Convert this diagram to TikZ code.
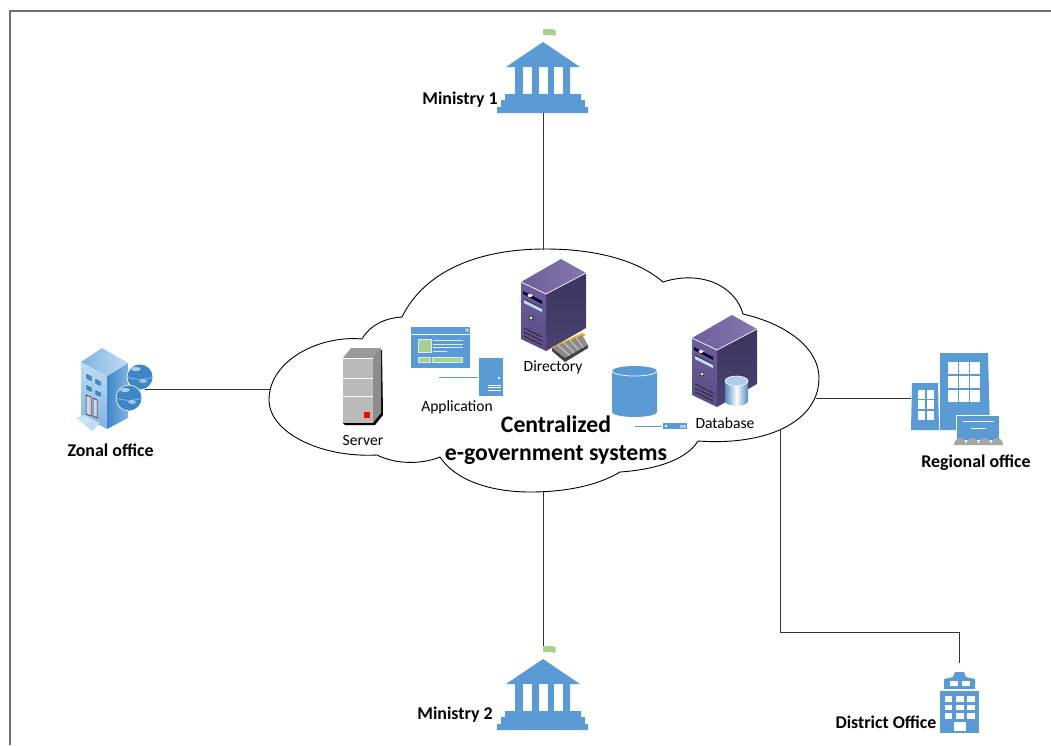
\documentclass[tikz,border=0pt]{standalone}
\usepackage{fontspec}
\setmainfont{Carlito}
\usetikzlibrary{positioning,calc}
\definecolor{iconblue}{HTML}{5B9BD5}
\definecolor{icongreen}{HTML}{A9D18E}
\definecolor{framegray}{HTML}{707070}
\definecolor{srvtop}{HTML}{8577AE}
\definecolor{srvfront}{HTML}{6E5F9C}
\definecolor{srvfrontb}{HTML}{5A4B88}
\definecolor{srvside}{HTML}{3C3560}
\definecolor{srvsideb}{HTML}{4A4270}
\definecolor{offlight}{HTML}{BFDDF2}
\definecolor{offmid}{HTML}{7FB2E0}
\definecolor{offdark}{HTML}{3F86C8}
\tikzstyle{iconbox}=[rectangle, inner sep=0pt, minimum width=92pt, minimum height=84pt]
\tikzstyle{blab}=[inner sep=0pt, font=\fontsize{17.9}{20}\selectfont\bfseries]
\tikzstyle{slab}=[inner sep=0pt, font=\fontsize{15.6}{18}\selectfont]
\tikzstyle{cline}=[line width=0.9pt, black!80]
\tikzstyle{wline}=[line width=1pt, white]
\tikzstyle{cloudline}=[line width=0.9pt, black]

% ministry building, origin at bottom centre
\newcommand{\bankicon}[1]{
  \begin{scope}[shift={#1}]
    \fill[icongreen] (0,-84) .. controls (4,-83) and (8,-85) .. (12.5,-83) -- (12.5,-77) .. controls (8,-79) and (4,-77) .. (0,-78) -- cycle;
    \fill[iconblue] (0,-71) -- (37,-46) -- (27,-46) -- (27,-19) -- (38,-19) -- (38,-13) -- (42,-13) -- (42,-6) -- (45,-6) -- (45,0)
      -- (-46,0) -- (-46,-6) -- (-42,-6) -- (-42,-13) -- (-38,-13) -- (-38,-19) -- (-28,-19) -- (-28,-46) -- (-37,-46) -- cycle;
    \foreach \wx in {-20,-4,11}
      \fill[white] (\wx,-46) rectangle ++(8.5,27);
  \end{scope}
}

% purple server, origin at left top corner of the front
\newcommand{\towericon}[1]{
  \begin{scope}[shift={#1}]
    \path[left color=srvfront, right color=srvtop] (0,0) -- (40,-23) -- (65,-9) -- (25,12) -- cycle;
    \path[top color=srvside, bottom color=srvsideb] (25,12) -- (65,-9) -- (65,46) -- (25,69) -- cycle;
    \path[top color=srvfront, bottom color=srvfrontb] (0,0) -- (25,12) -- (25,69) -- (0,57) -- cycle;
    \draw[white, line width=0.7pt] (0,0) -- (25,12) -- (65,-9);
    \fill[black!80!blue] (2,9) -- (21,19) -- (21,22) -- (2,12) -- cycle;
    \fill[white] (9,13.5) ellipse (2.5 and 1.5);
    \fill[offlight] (3,18) -- (21,27) -- (21,30) -- (3,21) -- cycle;
    \draw[black!85, line width=0.6pt] (3,17) -- (21,26);
    \fill[green!30!white, draw=black, line width=0.5pt] (10,36) circle (2);
    \foreach \vy in {46,50,54}
      \draw[black!85, line width=0.7pt] (3,\vy) -- (21,\vy+9);
  \end{scope}
}

\begin{document}
\begin{tikzpicture}[x=1pt,y=-1pt]
    \useasboundingbox (0,0) rectangle (1051,745);

% frame
    \draw[framegray, line width=1.5pt] (10,745) -- (10,11) -- (1051,11);

% cloud
    \draw[cloudline]
      (362,339) .. controls (320,335) and (269,360) .. (269,400) .. controls (269,432) and (320,458) .. (377,455)
      (362,339) .. controls (370,325) and (385,318) .. (402,317)
      (402,317) .. controls (425,270) and (480,249) .. (545,249) .. controls (600,249) and (640,262) .. (663,282)
      (663,282) .. controls (700,270) and (735,285) .. (743,314)
      (743,314) .. controls (790,325) and (819,350) .. (819,378) .. controls (819,420) and (770,446) .. (698,441)
      (698,441) .. controls (685,462) and (650,470) .. (620,472)
      (620,472) .. controls (590,490) and (550,492) .. (530,492) .. controls (490,492) and (455,480) .. (440,457)
      (440,457) .. controls (420,465) and (395,464) .. (377,455);

    \coordinate (ctop) at (543,250);
    \coordinate (cbot) at (543,492);
    \coordinate (cleft) at (270,389);
    \coordinate (cright) at (816,398);
    \coordinate (cdist) at (780,430);

% offices
    \node (mina) [iconbox] at (543,71) {};
    \node (minb) [iconbox] at (543,688) {};
    \node (zonal) [iconbox, minimum width=69pt, minimum height=82pt] at (110.5,389) {};
    \node (region) [iconbox, minimum height=92pt] at (957,398) {};
    \node (dist) [iconbox, minimum width=39pt, minimum height=70pt] at (959.5,698) {};

    \bankicon{(543,113)}
    \bankicon{(543,730)}

    \node (minatxt) [blab] at (460,100) {Ministry 1};
    \node (minbtxt) [blab] at (455,715) {Ministry 2};
    \node (zonaltxt) [blab, below=14pt of zonal] {Zonal office};
    \node (regiontxt) [blab] at (976,463) {Regional office};
    \node (disttxt) [blab] at (886,722) {District Office};

% zonal building
    \path[top color=offlight, bottom color=offmid] (81,362) -- (107,376) -- (107,429) -- (81,415) -- cycle;
    \path[left color=offdark, right color=offmid] (107,376) -- (128,363) -- (128,418) -- (107,429) -- cycle;
    \path[left color=offmid, right color=offlight] (81,362) -- (102,348) -- (128,363) -- (107,376) -- cycle;
    \foreach \wx/\wy in {86/373,95/378,86/384,95/389}
      \fill[offdark, draw=white, line width=0.4pt] (\wx,\wy) -- ++(6,3) -- ++(0,6) -- ++(-6,-3) -- cycle;
    \fill[offlight, draw=red!40!black, line width=0.5pt] (86,395) -- (91,397) -- (91,416) -- (86,414) -- cycle;
    \fill[offlight, draw=red!40!black, line width=0.5pt] (93,398) -- (97,400) -- (97,418) -- (93,416) -- cycle;
    \fill[offlight] (76,418) -- (85,415) -- (100,423) -- (92,431) -- cycle;
    \foreach \fk in {2,4,6}
      \draw[white, line width=0.4pt] (76+\fk,418+\fk) -- (85+\fk,415+\fk);
    \foreach \gx/\gy in {140/377,129/398} {
      \fill[offdark, draw=white, line width=0.6pt] (\gx,\gy) circle (13);
      \draw[white, line width=0.4pt, opacity=0.7] (\gx-13,\gy) .. controls (\gx-5,\gy+3) and (\gx+5,\gy+3) .. (\gx+13,\gy);
      \fill[white, opacity=0.6] (\gx-4,\gy-8) ellipse (5 and 2);
      \fill[white, opacity=0.5] (\gx+3,\gy+4) ellipse (4 and 2);
    }

% regional building
    \fill[iconblue] (940,353) -- (988,353) -- (990,430) -- (940,430) -- cycle;
    \fill[iconblue] (912,383) -- (938,383) -- (939,430) -- (911,430) -- cycle;
    \foreach \wx in {948,959,970}
      \foreach \wy in {362,376,390}
        \fill[white] (\wx,\wy) rectangle ++(9.5,11.5);
    \foreach \wx in {918,927}
      \foreach \wy in {390,400,411}
        \fill[white] (\wx,\wy) rectangle ++(7,8.5);
    \fill[iconblue, draw=white, line width=1pt] (956.5,415.5) rectangle (999.5,440);
    \draw[wline] (963,421.5) -- (994,421.5);
    \draw[wline] (971,428) -- (986,428);
    \fill[black!35] (954,445) arc (180:360:6 and 7) arc (180:360:6.25 and 7) arc (180:360:6.25 and 7) arc (180:360:6 and 7) -- cycle;

% district building
    \fill[iconblue] (940,691) rectangle (979,733);
    \fill[iconblue] (944,689) -- (944,679) -- (953,677) -- (955,672) -- (964,672) -- (966,677) -- (975,679) -- (975,689) -- cycle;
    \fill[white] (950,681) rectangle ++(8,5);
    \fill[white] (962,681) rectangle ++(8,5);
    \foreach \wx in {944.5,956,967}
      \foreach \wy in {696,704.5,713}
        \fill[white] (\wx,\wy) rectangle ++(7.5,5.5);
    \fill[white] (954,722) rectangle (966,731);

% grey server
    \fill[black] (343,423) -- (345,425) -- (375,425) -- (383,415) -- (382,350) -- (378,350) -- cycle;
    \fill[black!27] (343,358) rectangle (373,423);
    \fill[black!40] (343,358) -- (351,348) -- (381,348) -- (373,358) -- cycle;
    \fill[black!45] (373,358) -- (381,348) -- (381,413) -- (373,423) -- cycle;
    \draw[white, line width=0.6pt] (343,378) -- (373,378);
    \draw[white, line width=0.6pt] (343,396) -- (373,396);
    \draw[white, line width=0.6pt] (343,358) -- (373,358);
    \fill[red] (364,412) rectangle (369.5,417.5);
    \node (servertxt) [slab] at (363,440) {Server};

% application
    \fill[iconblue] (411,327) rectangle (470,368);
    \draw[white, line width=0.4pt] (411,334) -- (470,334);
    \draw[white, line width=0.5pt] (465.5,328.5) -- (468.5,331.5) (465.5,331.5) -- (468.5,328.5);
    \fill[icongreen, draw=white!80!iconblue, line width=0.7pt] (418,339) rectangle (431,352);
    \fill[icongreen, draw=white!80!iconblue, line width=0.7pt] (418,357) rectangle (430,362);
    \fill[icongreen, draw=white!80!iconblue, line width=0.7pt] (432,357) rectangle (462,362);
    \foreach \ly/\lx in {340.5/463,344/463,347.5/463,351/447}
      \draw[white!80!iconblue, line width=0.7pt] (433,\ly) -- (\lx,\ly);
    \fill[iconblue] (479,358) rectangle (503,396);
    \fill[white] (499,378) circle (1.3);
    \foreach \ly in {385,387.5,390}
      \draw[white, line width=0.8pt] (488,\ly) -- (501,\ly);
    \draw[iconblue, line width=0.7pt] (439,377) -- (478,377);
    \node (apptxt) [slab] at (457,407) {Application};

% directory
    \towericon{(521,282)}
    \fill[orange!60!yellow] (552,347) -- (582,333) -- (586,335) -- (556,349) -- cycle;
    \fill[black!45] (552,348) -- (582,335) -- (588,345) -- (565,358) -- cycle;
    \fill[black!75] (552,348) -- (565,358) -- (588,345) -- (588,348) -- (565,362) -- (552,351) -- cycle;
    \foreach \tk in {0.2,0.4,0.6,0.8}
      \draw[white, line width=0.4pt] ($(552,348)!\tk!(582,335)$) -- ($(565,358)!\tk!(588,345)$);
    \node (dirtxt) [slab] at (553,367) {Directory};

% storage
    \fill[iconblue] (612,371) arc (180:360:22.5 and 5) -- (657,412) arc (0:180:22.5 and 5) -- cycle;
    \draw[white, line width=0.7pt] (612,371) arc (180:0:22.5 and 5);
    \fill[iconblue] (663,423) rectangle (687,429);
    \fill[white] (665,425) rectangle ++(2,2);
    \fill[iconblue!50!white] (680,424.5) rectangle (686,427.5);
    \draw[iconblue, line width=0.7pt] (635,426) -- (662,426);

% database
    \towericon{(692,338)}
    \path[left color=iconblue!90!black, right color=iconblue!90!black, middle color=white] (725,381) -- (725,401) arc (180:0:11.5 and 5) -- (748,381) -- cycle;
    \fill[iconblue!50!white, draw=white, line width=0.6pt] (736.5,381) ellipse (11.5 and 5);
    \node (dbtxt) [slab] at (725,423) {Database};

    \node (cloudtxt) [align=center, inner sep=0pt, font=\fontsize{23.7}{28}\selectfont\bfseries] at (556,440) {Centralized\\e-government systems};

% lines
    \draw[cline] (mina.south) -- (ctop);
    \draw[cline] (cbot) -- (minb.north);
    \draw[cline] (zonal.east) -- (cleft);
    \draw[cline] (cright) -- (region.west);
    \draw[cline] (cdist) -- ++(0,202) -| (dist.north);
\end{tikzpicture}
\end{document}
